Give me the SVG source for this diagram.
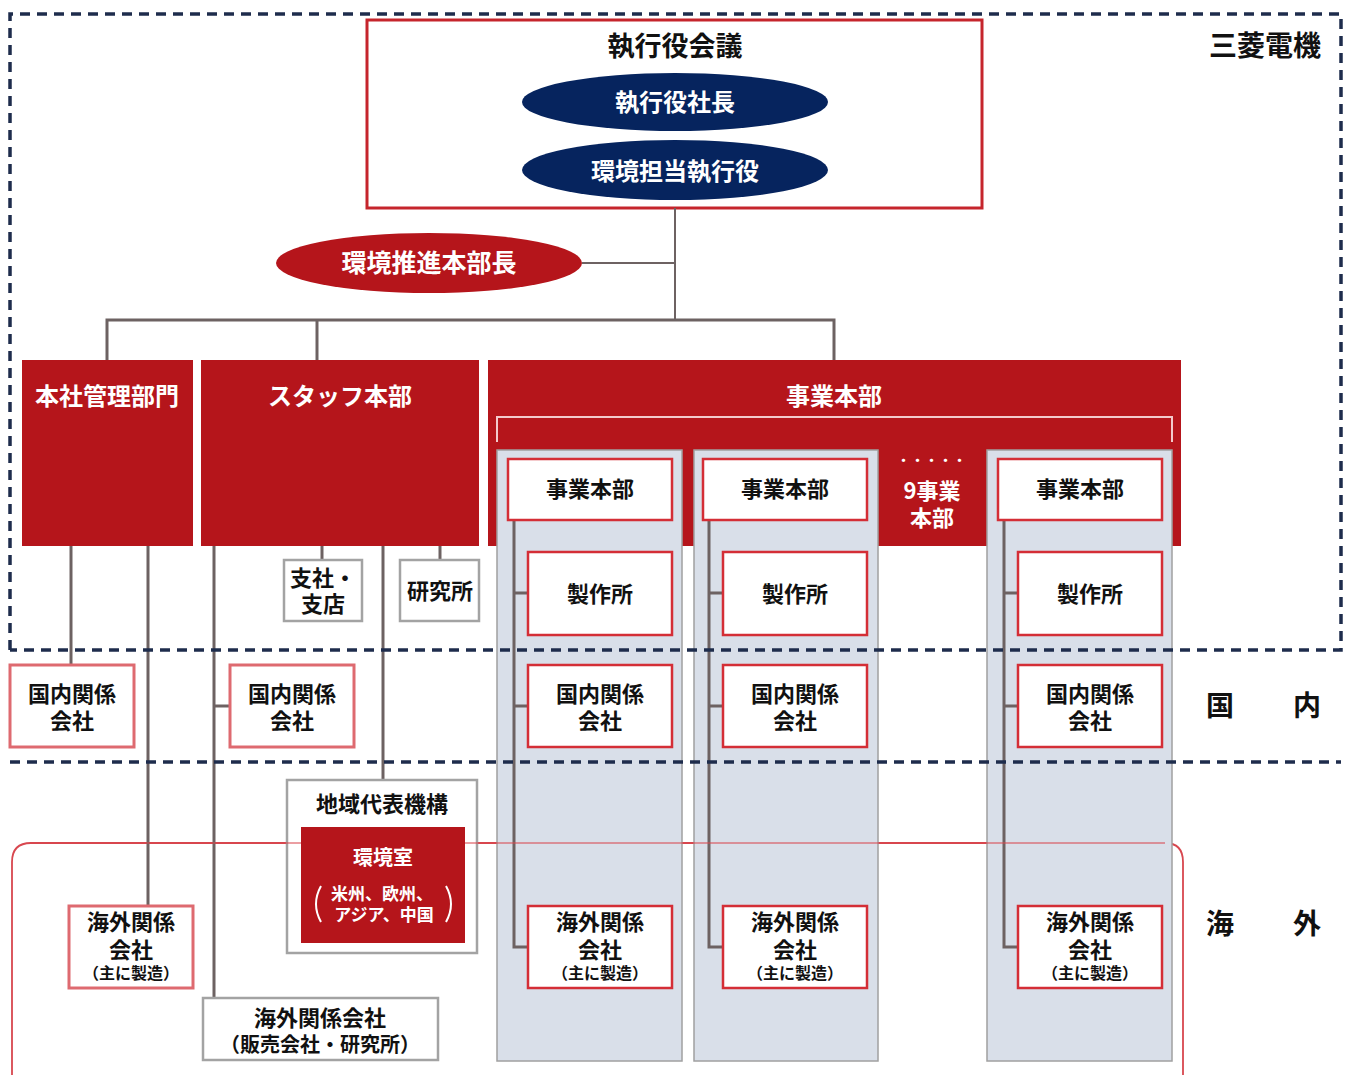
<svg xmlns="http://www.w3.org/2000/svg" width="1350" height="1075" viewBox="0 0 1350 1075">
<style>
text{font-family:"Noto Sans CJK JP","Noto Sans",sans-serif;font-weight:700;text-anchor:middle;dominant-baseline:central;transform:translate(0px,-2px)}
tspan{dominant-baseline:central}
.w{fill:#fff}
.k{fill:#111}
.sm{font-size:16px}
.redfill{fill:#b5151b}
.navy{fill:#06245e}
.rbox{fill:#fff;stroke:#d42e36;stroke-width:2.5}
.lbox{fill:#fff;stroke:#de6a70;stroke-width:3}
.gbox{fill:#fff;stroke:#a3a3a3;stroke-width:2.5}
.col{fill:#d9dfe9;stroke:#a0a0a0;stroke-width:1.5}
.conn{fill:none;stroke:#6d6262;stroke-width:3}
.thin{fill:none;stroke:#6d6262;stroke-width:2}
.dash{fill:none;stroke:#1e2c4c;stroke-width:3.5;stroke-dasharray:10 7}
</style>
<rect width="1350" height="1075" fill="#fff"/>

<g id="region-overseas">
<path d="M12 1075 V862 Q12 843 31 843 H1165 Q1183 843 1183 862 V1075" fill="none" stroke="#d8474f" stroke-width="1.8"/>
</g>

<g id="node-exec-meeting">
<rect x="367" y="20" width="615" height="188" fill="#fff" stroke="#c5252c" stroke-width="3"/>
<text x="675" y="46" class="k" font-size="27">執行役会議</text>
</g>
<g id="node-president">
<ellipse cx="675" cy="102" rx="153" ry="29" class="navy"/>
<text x="675" y="102" class="w" font-size="24">執行役社長</text>
</g>
<g id="node-env-officer">
<ellipse cx="675" cy="170" rx="153" ry="30" class="navy"/>
<text x="675" y="171" class="w" font-size="24">環境担当執行役</text>
</g>
<g id="node-env-director">
<ellipse cx="429" cy="263" rx="153" ry="30" class="redfill"/>
<text x="429" y="263" class="w" font-size="25">環境推進本部長</text>
</g>

<g id="node-hq-admin">
<rect x="22" y="360" width="171" height="186" class="redfill"/>
<text x="107" y="396" class="w" font-size="24">本社管理部門</text>
</g>
<g id="node-staff">
<rect x="201" y="360" width="278" height="186" class="redfill"/>
<text x="340" y="396" class="w" font-size="24">スタッフ本部</text>
</g>
<g id="node-business">
<rect x="488" y="360" width="693" height="186" class="redfill"/>
<text x="834" y="396" class="w" font-size="24">事業本部</text>
<path d="M497 442 V417 H1172 V442" fill="none" stroke="#f3c9cb" stroke-width="2"/>
<text class="w" font-size="22"><tspan x="932" y="461" font-size="13" letter-spacing="1">・・・・・</tspan><tspan x="932" y="491">9事業</tspan><tspan x="932" y="518">本部</tspan></text>
</g>

<g id="col-1"><rect x="497" y="450" width="185" height="611" class="col"/></g>
<g id="col-2"><rect x="694" y="450" width="184" height="611" class="col"/></g>
<g id="col-3"><rect x="987" y="450" width="185" height="611" class="col"/></g>

<g id="connectors">
<path class="thin" d="M675 208 V320"/>
<path class="thin" d="M582 263 H675"/>
<path class="conn" d="M107 360 V320 H834 V360" stroke-width="3.5"/>
<path class="conn" d="M317 320 V360"/>
<path class="conn" d="M71 546 V665"/>
<path class="conn" d="M148 546 V906"/>
<path class="conn" d="M214 546 V998"/>
<path class="conn" d="M214 706 H230"/>
<path class="conn" d="M322 546 V560"/>
<path class="conn" d="M383 546 V780"/>
<path class="conn" d="M440 546 V560"/>
<path class="conn" d="M514 520 V947 H528 M514 593 H528 M514 706 H528" stroke-width="2.5"/>
<path class="conn" d="M709 520 V947 H723 M709 593 H723 M709 706 H723" stroke-width="2.5"/>
<path class="conn" d="M1004 520 V947 H1018 M1004 593 H1018 M1004 706 H1018" stroke-width="2.5"/>
</g>

<g id="bu-1-head"><rect x="508" y="459" width="164" height="61" class="rbox"/><text x="590" y="489" class="k" font-size="22">事業本部</text></g>
<g id="bu-1-works"><rect x="528" y="552" width="144" height="83" class="rbox"/><text x="600" y="594" class="k" font-size="22">製作所</text></g>
<g id="bu-1-domestic"><rect x="528" y="665" width="144" height="82" class="rbox"/><text class="k" font-size="22"><tspan x="600" y="694">国内関係</tspan><tspan x="600" y="721">会社</tspan></text></g>
<g id="bu-1-overseas"><rect x="528" y="906" width="144" height="82" class="rbox"/><text class="k" font-size="22"><tspan x="600" y="922">海外関係</tspan><tspan x="600" y="950">会社</tspan><tspan x="600" y="974" class="sm">（主に製造）</tspan></text></g>

<g id="bu-2-head"><rect x="703" y="459" width="164" height="61" class="rbox"/><text x="785" y="489" class="k" font-size="22">事業本部</text></g>
<g id="bu-2-works"><rect x="723" y="552" width="144" height="83" class="rbox"/><text x="795" y="594" class="k" font-size="22">製作所</text></g>
<g id="bu-2-domestic"><rect x="723" y="665" width="144" height="82" class="rbox"/><text class="k" font-size="22"><tspan x="795" y="694">国内関係</tspan><tspan x="795" y="721">会社</tspan></text></g>
<g id="bu-2-overseas"><rect x="723" y="906" width="144" height="82" class="rbox"/><text class="k" font-size="22"><tspan x="795" y="922">海外関係</tspan><tspan x="795" y="950">会社</tspan><tspan x="795" y="974" class="sm">（主に製造）</tspan></text></g>

<g id="bu-3-head"><rect x="998" y="459" width="164" height="61" class="rbox"/><text x="1080" y="489" class="k" font-size="22">事業本部</text></g>
<g id="bu-3-works"><rect x="1018" y="552" width="144" height="83" class="rbox"/><text x="1090" y="594" class="k" font-size="22">製作所</text></g>
<g id="bu-3-domestic"><rect x="1018" y="665" width="144" height="82" class="rbox"/><text class="k" font-size="22"><tspan x="1090" y="694">国内関係</tspan><tspan x="1090" y="721">会社</tspan></text></g>
<g id="bu-3-overseas"><rect x="1018" y="906" width="144" height="82" class="rbox"/><text class="k" font-size="22"><tspan x="1090" y="922">海外関係</tspan><tspan x="1090" y="950">会社</tspan><tspan x="1090" y="974" class="sm">（主に製造）</tspan></text></g>

<g id="hq-domestic"><rect x="10" y="665" width="124" height="82" class="lbox"/><text class="k" font-size="22"><tspan x="72" y="694">国内関係</tspan><tspan x="72" y="721">会社</tspan></text></g>
<g id="hq-overseas"><rect x="69" y="906" width="124" height="82" class="lbox"/><text class="k" font-size="22"><tspan x="131" y="922">海外関係</tspan><tspan x="131" y="950">会社</tspan><tspan x="131" y="974" class="sm">（主に製造）</tspan></text></g>
<g id="staff-domestic"><rect x="230" y="665" width="124" height="82" class="lbox"/><text class="k" font-size="22"><tspan x="292" y="694">国内関係</tspan><tspan x="292" y="721">会社</tspan></text></g>
<g id="staff-branch"><rect x="284" y="560" width="78" height="61" class="gbox"/><text class="k" font-size="22"><tspan x="323" y="578">支社・</tspan><tspan x="323" y="604">支店</tspan></text></g>
<g id="staff-lab"><rect x="400" y="560" width="79" height="61" class="gbox"/><text x="440" y="591" class="k" font-size="22">研究所</text></g>
<g id="regional"><rect x="287" y="780" width="190" height="173" class="gbox"/><text x="382" y="804" class="k" font-size="22">地域代表機構</text></g>
<g id="staff-overseas"><rect x="203" y="998" width="235" height="62" class="gbox"/><text class="k" font-size="22"><tspan x="320" y="1018">海外関係会社</tspan><tspan x="320" y="1045" font-size="20">（販売会社・研究所）</tspan></text></g>

<path d="M31 843 H1165" fill="none" stroke="#d8474f" stroke-width="1.5" opacity="0.7"/>

<g id="env-office">
<rect x="301" y="827" width="164" height="116" class="redfill"/>
<text class="w" font-size="20"><tspan x="383" y="858">環境室</tspan><tspan x="382" y="894" font-size="17">米州、欧州、</tspan><tspan x="384" y="915" font-size="17">アジア、中国</tspan></text>
<path d="M321 886 Q311 904 321 922" fill="none" stroke="#fff" stroke-width="2"/>
<path d="M446 886 Q456 904 446 922" fill="none" stroke="#fff" stroke-width="2"/>
</g>

<g id="boundaries">
<path class="dash" d="M10 650 V14 H1341 V650 H10"/>
<path class="dash" d="M10 762 H1341"/>
</g>

<g id="labels">
<text x="1265" y="46" class="k" font-size="28">三菱電機</text>
<text x="1220" y="706" class="k" font-size="28">国</text>
<text x="1307" y="706" class="k" font-size="28">内</text>
<text x="1220" y="924" class="k" font-size="28">海</text>
<text x="1307" y="924" class="k" font-size="28">外</text>
</g>
</svg>
